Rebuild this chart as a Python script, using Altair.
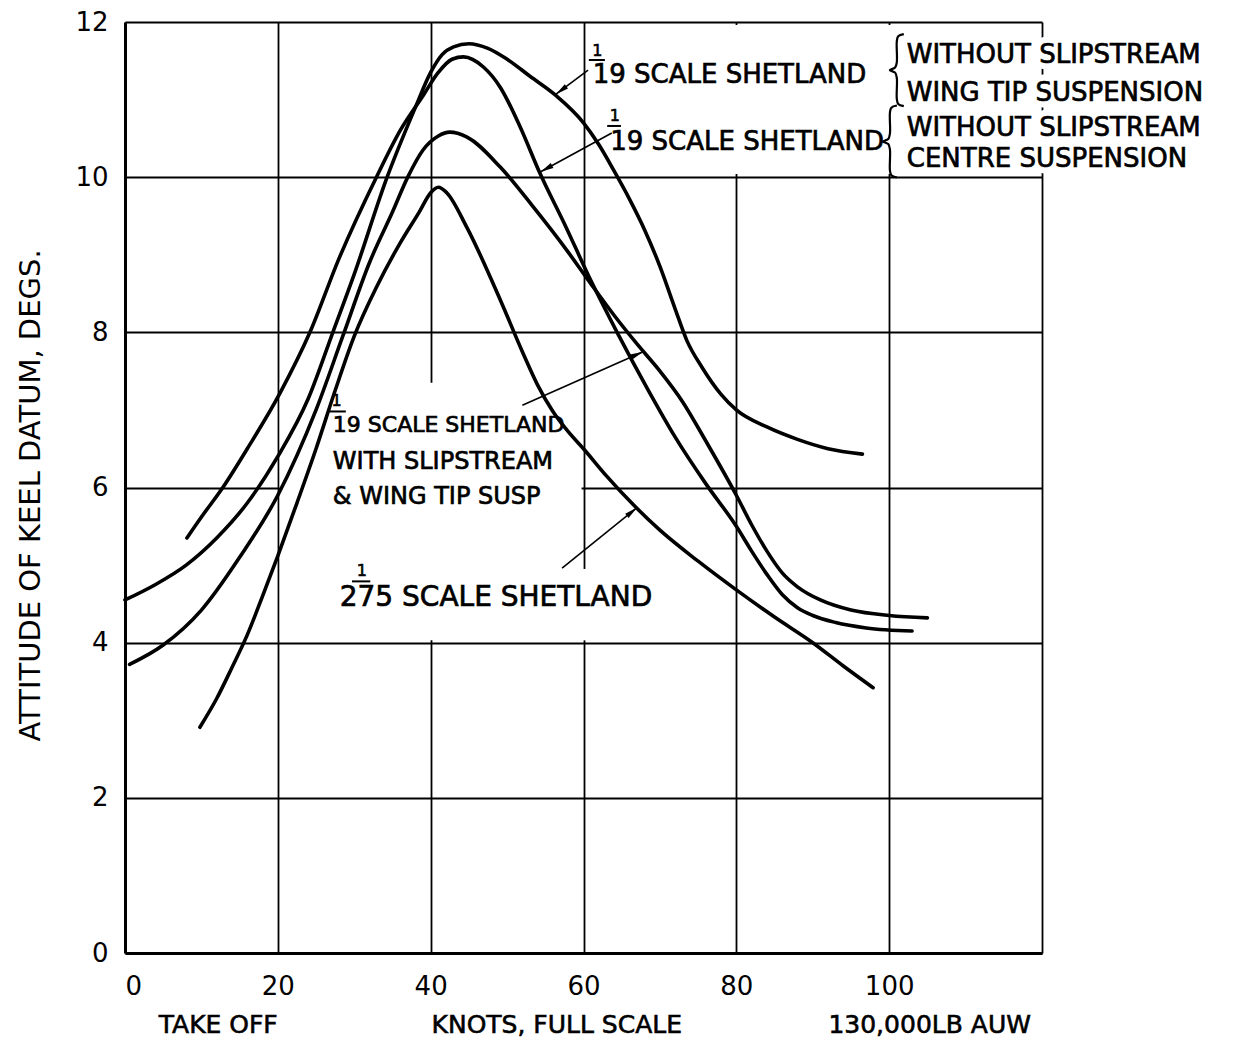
import math
import altair as alt
import pandas as pd

# ---------------- data ----------------
# A: 1/19 scale Shetland, without slipstream, wing tip suspension
a_knots = [0, 4, 8, 12, 16, 20, 24, 27.2, 30, 34.3, 38, 40, 41.5, 43, 45, 47.5, 50, 53,
           56.3, 60, 62, 64, 66, 68, 70, 72, 73.5, 75.5, 78, 80, 84, 88, 92, 96.5]
a_deg = [4.55, 4.75, 5.0, 5.35, 5.8, 6.4, 7.15, 8.0, 8.75, 10.0, 10.9, 11.35, 11.58, 11.68,
         11.72, 11.66, 11.52, 11.3, 11.06, 10.7, 10.42, 10.08, 9.72, 9.32, 8.85, 8.3, 7.9,
         7.55, 7.2, 7.0, 6.78, 6.62, 6.5, 6.43]

# B: 1/19 scale Shetland, without slipstream, centre suspension
b_knots = [8.1, 10, 12.8, 16, 20.3, 24.2, 28, 32.9, 36, 39, 41, 42.8, 44.3, 46.9, 49.1,
           51.7, 54.3, 57.5, 60.9, 64.5, 68.5, 72, 76, 80, 82, 84, 86, 88, 90, 93, 97, 103]
b_deg = [5.35, 5.62, 6.0, 6.5, 7.22, 8.0, 8.95, 10.0, 10.6, 11.05, 11.35, 11.52, 11.55,
         11.42, 11.16, 10.65, 10.05, 9.4, 8.68, 7.98, 7.25, 6.65, 6.05, 5.5, 5.18, 4.88,
         4.62, 4.45, 4.35, 4.26, 4.19, 4.15]

# C: 1/19 scale Shetland with slipstream & wing tip suspension
c_knots = [0.6, 5, 10, 15, 20, 25, 28.5, 32, 35, 37, 39, 41, 42.5, 44.7, 49.1, 53.4, 57.8,
           61, 64, 67, 70, 73, 76, 80, 82, 84, 86, 88, 91, 95, 100, 105]
c_deg = [3.72, 3.97, 4.42, 5.1, 5.9, 7.0, 7.95, 8.9, 9.55, 10.0, 10.35, 10.53, 10.58,
         10.52, 10.13, 9.62, 9.06, 8.62, 8.22, 7.85, 7.5, 7.1, 6.6, 5.9, 5.52, 5.18, 4.9,
         4.72, 4.55, 4.42, 4.35, 4.32]

# D: 1/27.5 scale Shetland
d_knots = [9.8, 12, 14, 16, 18, 20, 22.5, 25, 27.5, 30, 33, 36, 38.5, 40, 41, 42.1, 44.7,
           49.1, 52, 54, 56, 58, 60, 63, 66.5, 70, 75, 80, 85, 90, 94, 97.9]
d_deg = [2.91, 3.28, 3.68, 4.1, 4.6, 5.12, 5.8, 6.5, 7.25, 7.95, 8.6, 9.15, 9.55, 9.8,
         9.87, 9.8, 9.36, 8.42, 7.75, 7.32, 6.98, 6.72, 6.5, 6.15, 5.78, 5.45, 5.05, 4.68,
         4.33, 4.0, 3.7, 3.42]

x_ticks = [0, 20, 40, 60, 80, 100, 120]
y_ticks = [0, 2, 4, 6, 8, 10, 12]

# annotation labels (text, knots, degrees, font size)
label_text = ["19 SCALE SHETLAND", "WITHOUT SLIPSTREAM", "WING TIP SUSPENSION",
              "19 SCALE SHETLAND", "WITHOUT SLIPSTREAM", "CENTRE SUSPENSION",
              "19 SCALE SHETLAND", "WITH SLIPSTREAM", "& WING TIP SUSP",
              "275 SCALE SHETLAND"]
label_k = [61.2, 102.3, 102.3, 63.5, 102.3, 102.3, 27.2, 27.2, 27.2, 28.1]
label_v = [11.32, 11.58, 11.09, 10.45, 10.63, 10.23, 6.81, 6.33, 5.88, 4.58]
label_size = [26, 26, 26, 26, 26, 26, 22, 24, 24, 28]

# fraction numerators "1" and their bars
num_k = [61.8, 64.1, 27.7, 31.0]
num_v = [11.62, 10.79, 7.12, 4.93]
bar_k1 = [60.7, 63.1, 26.8, 29.7]
bar_k2 = [62.8, 64.9, 28.9, 32.1]
bar_v = [11.51, 10.66, 6.98, 4.79]

# braces: centre position (knots, degrees)
brace_k = [101.0, 100.1]
brace_v = [11.38, 10.46]

# arrows: tail -> tip
arr_k1 = [60.6, 63.7, 52.0, 57.2]
arr_v1 = [11.38, 10.57, 7.06, 4.96]
arr_k2 = [56.4, 54.4, 67.8, 67.0]
arr_v2 = [11.07, 10.07, 7.75, 5.74]

# areas where the drawing leaves the grid blank behind the lettering
mask_k1 = [60.4, 20.25, 59.5]
mask_k2 = [119.7, 59.75, 60.5]
mask_v1 = [10.04, 4.03, 4.03]
mask_v2 = [11.96, 7.35, 4.95]

# bottom captions
cap_text = ["TAKE OFF", "KNOTS, FULL SCALE", "130,000LB AUW"]
cap_k = [12.2, 56.5, 105.3]

# ---------------- geometry ----------------
W, H = 917, 931
PX_K = W / 120.0
PX_V = H / 12.0
FONT = "DejaVu Sans"

rows = []
for name, ks, vs in [("A", a_knots, a_deg), ("B", b_knots, b_deg),
                     ("C", c_knots, c_deg), ("D", d_knots, d_deg)]:
    for k, v in zip(ks, vs):
        rows.append({"series": name, "k": k, "v": v})
curves = pd.DataFrame(rows)

labels = pd.DataFrame({"text": label_text, "k": label_k, "v": label_v, "size": label_size})
nums = pd.DataFrame({"text": ["1"] * len(num_k), "k": num_k, "v": num_v})
bars = pd.DataFrame({"k": bar_k1, "k2": bar_k2, "v": bar_v})
masks = pd.DataFrame({"k": mask_k1, "k2": mask_k2, "v": mask_v1, "v2": mask_v2})

# brace outline (pixel offsets around the centre), drawn as a smooth path
BRACE_H = 36.0
BRACE_W = 14.0
brace_shape = [(0.5, -1.0), (0.1, -0.94), (0.0, -0.8), (0.0, -0.22), (-0.12, -0.07),
               (-0.5, 0.0), (-0.12, 0.07), (0.0, 0.22), (0.0, 0.8), (0.1, 0.94), (0.5, 1.0)]
brace_rows = []
for bi, (kc, vc) in enumerate(zip(brace_k, brace_v)):
    for j, (fx, fy) in enumerate(brace_shape):
        brace_rows.append({"b": bi, "o": j,
                           "k": kc + fx * BRACE_W / PX_K,
                           "v": vc - fy * BRACE_H / PX_V})
braces = pd.DataFrame(brace_rows)

head_len = 6.5
heads = []
for k1, v1, k2, v2 in zip(arr_k1, arr_v1, arr_k2, arr_v2):
    dx = (k2 - k1) * PX_K
    dy = -(v2 - v1) * PX_V
    L = math.hypot(dx, dy)
    ang = math.degrees(math.atan2(dx, -dy)) % 360
    heads.append({"k": k2 - dx / L * head_len / PX_K,
                  "v": v2 + dy / L * head_len / PX_V, "ang": ang})
arrows = pd.DataFrame({"k": arr_k1, "v": arr_v1, "k2": arr_k2, "v2": arr_v2})
heads = pd.DataFrame(heads)
caps = pd.DataFrame({"text": cap_text, "k": cap_k})

xs = alt.Scale(domain=[0, 120], nice=False, zero=False)
ys = alt.Scale(domain=[0, 12], nice=False, zero=False)

X = alt.X("k:Q", scale=xs, axis=alt.Axis(
    values=x_ticks, labelExpr="datum.value >= 120 ? '' : datum.label", format="d",
    title=None, grid=True, ticks=False, labelPadding=20, labelFontSize=26,
    labelFont=FONT, labelColor="black", domainColor="black", domainWidth=3,
    gridColor="black", gridWidth=1.8, gridOpacity=1))
Y = alt.Y("v:Q", scale=ys, axis=alt.Axis(
    values=y_ticks, format="d", title="ATTITUDE OF KEEL DATUM, DEGS.", grid=True,
    ticks=False, labelPadding=17, labelFontSize=26, labelFont=FONT, labelColor="black",
    domainColor="black", domainWidth=3, gridColor="black", gridWidth=1.8, gridOpacity=1,
    titleFont=FONT, titleFontSize=29, titleFontWeight="normal", titleColor="black",
    titleX=-95, titleY=473, titleAngle=270, titleAlign="center", titleBaseline="middle"))

xk = alt.X("k:Q", scale=xs)
yv = alt.Y("v:Q", scale=ys)

mask_layer = alt.Chart(masks).mark_rect(color="white", opacity=1).encode(
    x=X, x2="k2:Q", y=Y, y2="v2:Q")

halo = alt.Chart(labels).mark_text(align="left", baseline="middle", font=FONT,
                                   color="white", stroke="white", strokeWidth=13,
                                   strokeJoin="round").encode(
    x=xk, y=yv, text="text:N", size=alt.Size("size:Q", scale=None, legend=None))

lines = alt.Chart(curves).mark_line(interpolate="monotone", color="black",
                                    strokeWidth=3.6, strokeCap="round").encode(
    x=xk, y=yv, detail="series:N", order="k:Q")

arrow_lines = alt.Chart(arrows).mark_rule(color="black", strokeWidth=1.6).encode(
    x=xk, y=yv, x2="k2:Q", y2="v2:Q")

arrow_heads = alt.Chart(heads).mark_point(shape="M0,-1L0.42,1L-0.42,1Z", filled=True,
                                          color="black", size=169, opacity=1,
                                          strokeWidth=0).encode(
    x=xk, y=yv, angle=alt.Angle("ang:Q", scale=None))

text = alt.Chart(labels).mark_text(align="left", baseline="middle", font=FONT,
                                   color="black", stroke="black", strokeWidth=0.7).encode(
    x=xk, y=yv, text="text:N", size=alt.Size("size:Q", scale=None, legend=None))

num_text = alt.Chart(nums).mark_text(align="center", baseline="middle", font=FONT,
                                     fontSize=16, color="black", stroke="black",
                                     strokeWidth=0.6).encode(
    x=xk, y=yv, text="text:N")

bar_rules = alt.Chart(bars).mark_rule(color="black", strokeWidth=2).encode(
    x=xk, x2="k2:Q", y=yv)

brace_lines = alt.Chart(braces).mark_line(interpolate="catmull-rom", color="black",
                                          strokeWidth=2.2).encode(
    x=xk, y=yv, detail="b:N", order="o:Q")

cap_text_layer = alt.Chart(caps).mark_text(align="center", baseline="middle", font=FONT,
                                           fontSize=25, color="black", stroke="black",
                                           strokeWidth=0.6).encode(
    x=xk, y=alt.value(H + 72), text="text:N")

chart = alt.layer(
    mask_layer, halo, lines, arrow_lines, arrow_heads, text, num_text, bar_rules,
    brace_lines, cap_text_layer
).properties(
    width=W, height=H,
    autosize=alt.AutoSizeParams(type="none"),
    padding={"left": 125, "top": 22, "right": 203, "bottom": 89},
    background="white",
).configure_view(strokeWidth=0)

chart.save("out.html", embed_options={"renderer": "svg", "actions": False})
